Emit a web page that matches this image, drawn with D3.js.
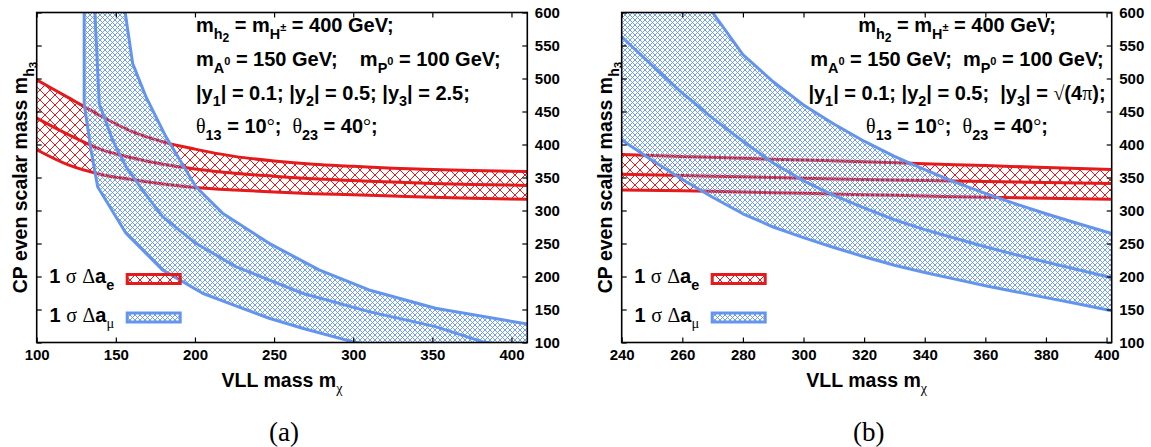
<!DOCTYPE html>
<html>
<head>
<meta charset="utf-8">
<script src="https://cdn.jsdelivr.net/npm/d3@7"></script>
<style>
body { margin: 0; background: #fff; }
text { font-family: "Liberation Sans", Arial, sans-serif; font-weight: bold; white-space: pre; }
</style>
</head>
<body>
<script>
// ---- data ----
// panel (a): |y3| = 2.5
var redXa   = [100, 120, 140, 160, 180, 200, 225, 250, 275, 300, 325, 350, 375, 410];
var redUpA  = [498, 471, 444, 420, 404, 393, 382, 375, 370, 367, 364, 362, 360.5, 359];
var redMidA = [440, 415, 393, 380, 370, 363, 356.5, 352, 348, 345.5, 343, 341, 339.5, 338];
var redLowA = [392, 369, 355, 347, 340, 335, 331, 328, 325.5, 324, 322, 320, 318.5, 317];

// blue band of (a) is steep, so kept as [m_chi, m_h3] pairs
var blueLowA = [[130, 620], [130, 462], [134.3, 392], [138.5, 336], [156.4, 265.5], [179.5, 210],
                [204.8, 174.6], [221.6, 159.4], [246.9, 136.7], [267.9, 121.5], [299.4, 101.3],
                [330, 88], [410, 68]];
var blueMidA = [[136.4, 620], [139.5, 462], [147.9, 407], [156.4, 366.5], [166.9, 331], [179.5, 290.7],
                [200.6, 250.3], [225.8, 215], [267.9, 174.6], [310, 146.8], [352, 124], [381.5, 101.3],
                [410, 90]];
var blueUpA  = [[154.7, 620], [160.6, 523], [169, 472.5], [181.6, 412], [200.6, 336], [217.4, 296],
                [246.9, 250.3], [278.4, 210], [310, 179.6], [352, 151.8], [410, 128]];

// panel (b): |y3| = sqrt(4 pi)
var redXb   = [240, 260, 280, 300, 320, 340, 360, 380, 401.7];
var redUpB  = [385, 382, 379, 376.5, 374, 371, 368, 365, 362];
var redMidB = [355, 353, 351, 349, 347, 345.5, 344, 342.5, 341];
var redLowB = [331, 330, 328, 326, 324, 322, 320, 318.5, 317];

var blueXb   = [240, 250, 260, 270, 280, 290, 300, 310, 320, 330, 340, 350, 360, 370, 380, 390, 401.7];
var blueLowB = [407, 376, 347, 320, 295, 275, 259, 244, 230, 217, 206, 196, 186, 177, 168, 159, 148];
var blueMidB = [563, 520, 478, 440, 405, 372, 345, 323, 304, 286, 271, 258, 245, 233, 222, 211, 198];
var blueUpB  = [790, 720, 660, 600, 536, 495, 460, 431, 405, 382, 362, 343, 326, 310, 295, 281, 265];

var xTicksA = [100, 150, 200, 250, 300, 350, 400];
var xTicksB = [240, 260, 280, 300, 320, 340, 360, 380, 400];
var yTicks  = [100, 150, 200, 250, 300, 350, 400, 450, 500, 550, 600];

// annotation lines: [text, level, serif]; level 1 = sub, 2 = sub of sub, 3 = sup of sub
var notesA = [
  [["m"], ["h", 1], ["2", 2], [" = m"], ["H", 1], ["\u00b1", 3], [" = 400 GeV;"]],
  [["m"], ["A", 1], ["0", 3], [" = 150 GeV;    m"], ["P", 1], ["0", 3], [" = 100 GeV;"]],
  [["|y"], ["1", 1], ["| = 0.1; |y"], ["2", 1], ["| = 0.5; |y"], ["3", 1], ["| = 2.5;"]],
  [["\u03b8", 0, 1], ["13", 1], [" = 10"], ["\u00b0", 0, 1], [";  "], ["\u03b8", 0, 1], ["23", 1], [" = 40"], ["\u00b0", 0, 1], [";"]]
];
var notesB = [
  [["m"], ["h", 1], ["2", 2], [" = m"], ["H", 1], ["\u00b1", 3], [" = 400 GeV;"]],
  [["m"], ["A", 1], ["0", 3], [" = 150 GeV;  m"], ["P", 1], ["0", 3], [" = 100 GeV;"]],
  [["|y"], ["1", 1], ["| = 0.1; |y"], ["2", 1], ["| = 0.5;  |y"], ["3", 1], ["| = "], ["\u221a", 0, 1], ["(4"], ["\u03c0", 0, 1], [");"]],
  [["\u03b8", 0, 1], ["13", 1], [" = 10"], ["\u00b0", 0, 1], [";  "], ["\u03b8", 0, 1], ["23", 1], [" = 40"], ["\u00b0", 0, 1], [";"]]
];
var legendE  = [["1 "], ["\u03c3", 0, 1], [" "], ["\u0394", 0, 1], ["a"], ["e", 1]];
var legendMu = [["1 "], ["\u03c3", 0, 1], [" "], ["\u0394", 0, 1], ["a"], ["\u03bc", 1, 1]];
var xTitle = [["VLL mass m"], ["\u03c7", 1, 1]];
var yTitle = [["CP even scalar mass m"], ["h", 1], ["3", 2]];

var RED = "#e41a1c", BLUE = "#6495ed";
var plotTop = 12.5, plotBottom = 342.5;
var noteSize = 20;

var svg = d3.select("body").append("svg").attr("width", 1151).attr("height", 447);
var defs = svg.append("defs");

function hatch(id, s, color, w) {
  defs.append("pattern").attr("id", id).attr("patternUnits", "userSpaceOnUse")
    .attr("width", s).attr("height", s)
    .append("path").attr("d", "M0,0L" + s + "," + s + "M" + s + ",0L0," + s)
    .attr("stroke", color).attr("stroke-width", w).attr("fill", "none");
}
hatch("hatchRed", 10, RED, 1);
hatch("hatchBlue", 5, BLUE, 0.9);

function rich(t, segs, size) {
  var cur = 0;
  segs.forEach(function (s) {
    var lvl = s[1] || 0;
    var off = [0, 0.33, 0.5, -0.05][lvl] * size;
    var fs = [1, 0.72, 0.6, 0.55][lvl] * size;
    var sp = t.append("tspan").text(s[0]).attr("dy", off - cur).attr("font-size", fs);
    if (s[2]) sp.style("font-family", "'Liberation Serif', serif").style("font-weight", "normal");
    cur = off;
  });
}

function panel(p) {
  var x = d3.scaleLinear().domain(p.xDomain).range([p.left, p.right]);
  var y = d3.scaleLinear().domain([100, 600]).range([plotBottom, plotTop]);
  var g = svg.append("g");

  defs.append("clipPath").attr("id", p.id + "clip").append("rect")
    .attr("x", p.left).attr("y", plotTop).attr("width", p.right - p.left).attr("height", plotBottom - plotTop);
  var plot = g.append("g").attr("clip-path", "url(#" + p.id + "clip)");

  // red band: fill + three lines
  var ri = d3.range(p.redX.length);
  plot.append("path").datum(ri)
    .attr("d", d3.area().curve(d3.curveMonotoneX)
      .x(function (i) { return x(p.redX[i]); })
      .y0(function (i) { return y(p.redLow[i]); })
      .y1(function (i) { return y(p.redUp[i]); }))
    .attr("fill", "url(#hatchRed)");
  [p.redUp, p.redMid, p.redLow].forEach(function (arr) {
    plot.append("path").datum(ri)
      .attr("d", d3.line().curve(d3.curveMonotoneX)
        .x(function (i) { return x(p.redX[i]); })
        .y(function (i) { return y(arr[i]); }))
      .attr("fill", "none").attr("stroke", RED).attr("stroke-width", 3);
  });

  // blue band
  var ln = d3.line().x(function (d) { return x(d[0]); }).y(function (d) { return y(d[1]); });
  plot.append("path").datum(p.blueLow.concat(p.blueUp.slice().reverse()))
    .attr("d", function (d) { return ln(d) + "Z"; })
    .attr("fill", "url(#hatchBlue)");
  [p.blueLow, p.blueMid, p.blueUp].forEach(function (arr) {
    plot.append("path").datum(arr).attr("d", ln)
      .attr("fill", "none").attr("stroke", BLUE).attr("stroke-width", 3).attr("stroke-linejoin", "round");
  });

  // axes, ticks inward on all four sides
  function style(a) {
    a.select(".domain").remove();
    a.selectAll("line").attr("stroke", "#000").attr("stroke-width", 1.2);
    a.attr("font-family", null).attr("font-size", 15).selectAll("text").attr("fill", "#000");
  }
  g.append("g").attr("transform", "translate(0," + plotBottom + ")")
    .call(d3.axisBottom(x).tickValues(p.xTicks).tickSizeInner(-5).tickSizeOuter(0).tickPadding(7)).call(style);
  g.append("g").attr("transform", "translate(0," + plotTop + ")")
    .call(d3.axisTop(x).tickValues(p.xTicks).tickSizeInner(-5).tickSizeOuter(0).tickFormat("")).call(style);
  g.append("g").attr("transform", "translate(" + p.left + ",0)")
    .call(d3.axisLeft(y).tickValues(yTicks).tickSizeInner(-5).tickSizeOuter(0).tickFormat("")).call(style);
  g.append("g").attr("transform", "translate(" + p.right + ",0)")
    .call(d3.axisRight(y).tickValues(yTicks).tickSizeInner(-5).tickSizeOuter(0).tickPadding(7.5)).call(style);

  g.append("rect").attr("x", p.left).attr("y", plotTop)
    .attr("width", p.right - p.left).attr("height", plotBottom - plotTop)
    .attr("fill", "none").attr("stroke", "#000").attr("stroke-width", 1.6);

  // annotations
  p.notes.forEach(function (segs, i) {
    var t = g.append("text").attr("x", p.noteX).attr("y", [32, 66, 99.5, 133][i])
      .attr("text-anchor", p.noteAnchor).attr("font-size", noteSize);
    rich(t, segs, noteSize);
  });

  // legend
  var sx = p.left + 89;
  [[legendE, "hatchRed", RED, 279], [legendMu, "hatchBlue", BLUE, 317.5]].forEach(function (k) {
    var t = g.append("text").attr("x", sx - 11.5).attr("y", k[3] + 4)
      .attr("text-anchor", "end").attr("font-size", noteSize);
    rich(t, k[0], noteSize);
    g.append("rect").attr("x", sx + 1.5).attr("y", k[3] - 4.5).attr("width", 53).attr("height", 9)
      .attr("fill", "url(#" + k[1] + ")").attr("stroke", k[2]).attr("stroke-width", 3);
  });

  // axis titles and caption
  var xt = g.append("text").attr("x", (p.left + p.right) / 2).attr("y", 387)
    .attr("text-anchor", "middle").attr("font-size", 19.5);
  rich(xt, xTitle, 19.5);
  var yt = g.append("text").attr("transform", "translate(" + (p.left - 9.5) + "," + (plotTop + plotBottom) / 2 + ") rotate(-90)")
    .attr("text-anchor", "middle").attr("font-size", 19.5);
  rich(yt, yTitle, 19.5);
  g.append("text").attr("x", (p.left + p.right) / 2 + 2).attr("y", 441)
    .attr("text-anchor", "middle").attr("font-size", 27)
    .style("font-family", "'Liberation Serif', serif").style("font-weight", "normal")
    .text(p.caption);
}

panel({
  id: "a", left: 36.7, right: 527.3, xDomain: [100, 410], xTicks: xTicksA,
  redX: redXa, redUp: redUpA, redMid: redMidA, redLow: redLowA,
  blueLow: blueLowA, blueMid: blueMidA, blueUp: blueUpA,
  notes: notesA, noteX: 196, noteAnchor: "start", caption: "(a)"
});

function pairs(xs, ys) { return xs.map(function (v, i) { return [v, ys[i]]; }); }
panel({
  id: "b", left: 621.7, right: 1111.7, xDomain: [240, 401.7], xTicks: xTicksB,
  redX: redXb, redUp: redUpB, redMid: redMidB, redLow: redLowB,
  blueLow: pairs(blueXb, blueLowB), blueMid: pairs(blueXb, blueMidB), blueUp: pairs(blueXb, blueUpB),
  notes: notesB, noteX: 957, noteAnchor: "middle", caption: "(b)"
});
</script>
</body>
</html>
